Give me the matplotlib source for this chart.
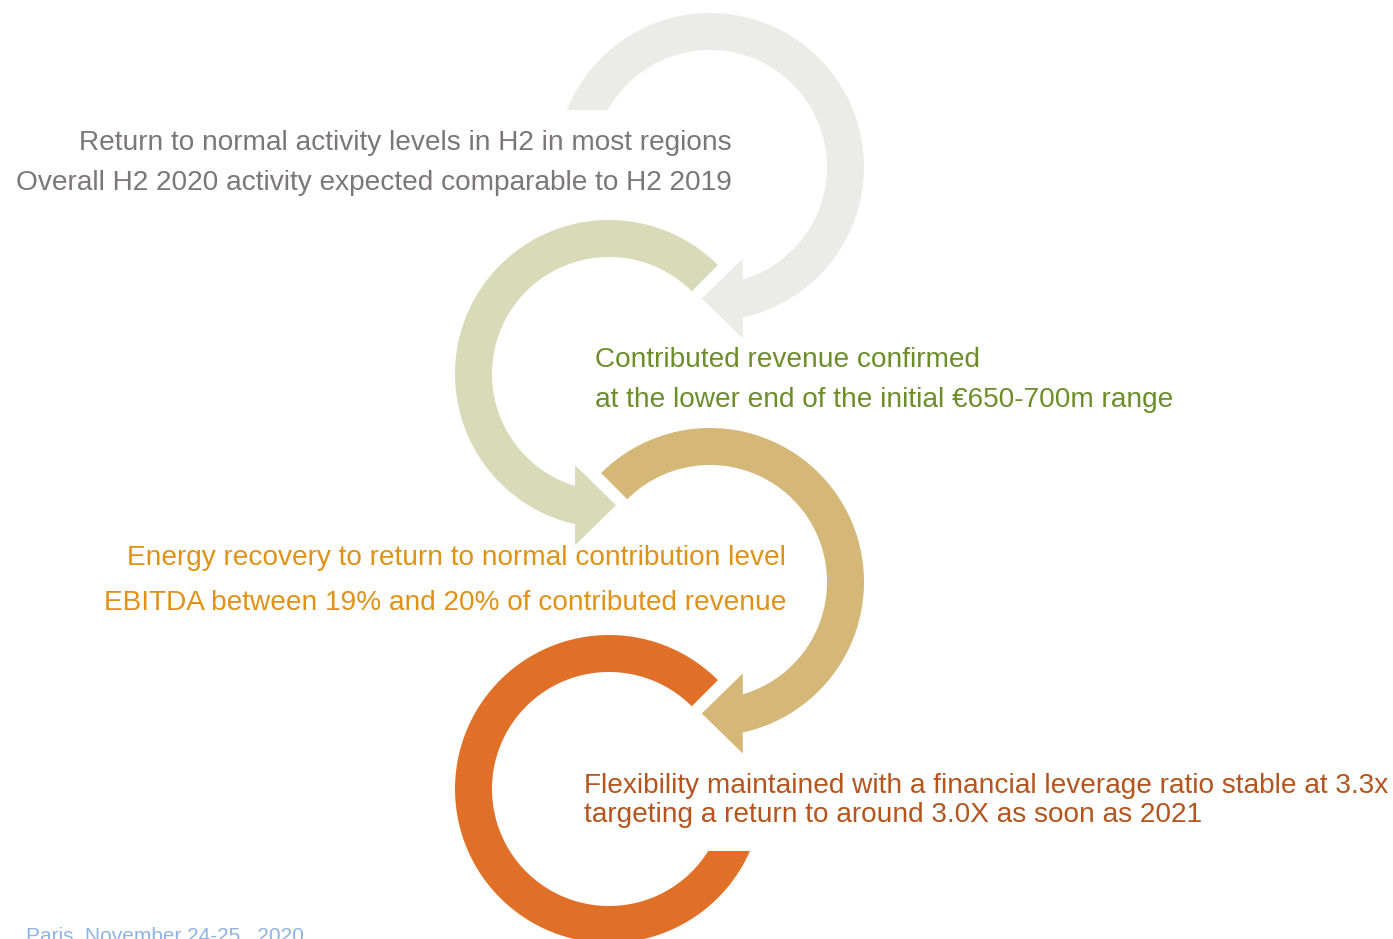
import matplotlib as mpl
import matplotlib.pyplot as plt
import numpy as np
from matplotlib.patches import Polygon, Rectangle
mpl.use('Agg')

# --- data -------------------------------------------------------------
gray_lines = ['Return to normal activity levels in H2 in most regions',
              'Overall H2 2020 activity expected comparable to H2 2019']
green_lines = ['Contributed revenue confirmed',
               'at the lower end of the initial \u20ac650-700m range']
gold_lines = ['Energy recovery to return to normal contribution level',
              'EBITDA between 19% and 20% of contributed revenue']
brown_lines = ['Flexibility maintained with a financial leverage ratio stable at 3.3x',
               'targeting a return to around 3.0X as soon as 2021']
footer = 'Paris, November 24-25 , 2020'

# ring centres (px), start angle, base angle of the head, head direction (+1 right, -1 left, 0 none)
centres = [(710, 167), (609, 374), (710, 582), (609, 789)]
start_deg = [175, 45, 135, 45]
base_deg = [-76, 255.5, -76, 345]
head_dir = [-1, 1, -1, 0]
ring_cols = ['#ebebea', '#d8dab8', '#d5b877', '#e07027']

R_OUT, R_IN, HALF_HEAD, HEAD_LEN = 154, 117, 40, 41
R_MID = (R_OUT + R_IN) / 2


def pt(c, r, t):
    t = np.radians(t)
    return np.array([c[0] + r * np.cos(t), c[1] - r * np.sin(t)])


def ang(c, p):
    return np.degrees(np.arctan2(-(p[1] - c[1]), p[0] - c[0]))


def circ_hit(c, r, b, n):
    # point on line b + s*n closest to b that lies on circle radius r
    d = b - np.array(c)
    bb = 2 * np.dot(d, n)
    cc = np.dot(d, d) - r * r
    disc = np.sqrt(bb * bb - 4 * cc)
    s = min([(-bb + disc) / 2, (-bb - disc) / 2], key=abs)
    return b + s * n


def ring_arrow(c, t0, tb, hd):
    if hd == 0:
        a_out = np.linspace(t0, tb, 200)
        pts = [pt(c, R_OUT, t) for t in a_out] + [pt(c, R_IN, t) for t in a_out[::-1]]
        return np.array(pts)
    B = pt(c, R_MID, tb)
    T = B + np.array([hd * HEAD_LEN, 0])
    n = np.array([0.0, 1.0])
    if np.linalg.norm(B + n - np.array(c)) < np.linalg.norm(B - np.array(c)):
        n = -n
    po = circ_hit(c, R_OUT, B, n)
    pi = circ_hit(c, R_IN, B, n)
    eo = tb + (ang(c, po) - tb + 180) % 360 - 180
    ei = tb + (ang(c, pi) - tb + 180) % 360 - 180
    pts = [pt(c, R_OUT, t) for t in np.linspace(t0, eo, 200)]
    pts += [B + HALF_HEAD * n, T, B - HALF_HEAD * n]
    pts += [pt(c, R_IN, t) for t in np.linspace(ei, t0, 200)]
    return np.array(pts)


fig = plt.figure(figsize=(13.93, 9.39), dpi=100)
ax = fig.add_axes([0, 0, 1, 1])
ax.set_xlim(0, 1393)
ax.set_ylim(939, 0)
ax.axis('off')

for i in range(4):
    poly = ring_arrow(centres[i], start_deg[i], base_deg[i], head_dir[i])
    ax.add_patch(Polygon(poly, closed=True, facecolor=ring_cols[i],
                         edgecolor='none', zorder=2 + i))

# white text boxes hiding ring ends
ax.add_patch(Rectangle((0, 110), 740, 100, facecolor='white', edgecolor='none', zorder=2.5))
ax.add_patch(Rectangle((640, 762), 753, 89, facecolor='white', edgecolor='none', zorder=6))

font = 'Liberation Sans'
fs = 20.2
ax.text(732, 150, gray_lines[0], ha='right', va='baseline', fontsize=fs, color='#7b7778', family=font, zorder=10)
ax.text(732, 190, gray_lines[1], ha='right', va='baseline', fontsize=fs, color='#7b7778', family=font, zorder=10)
ax.text(595, 367, green_lines[0], ha='left', va='baseline', fontsize=fs, color='#6b8e2a', family=font, zorder=10)
ax.text(595, 407, green_lines[1], ha='left', va='baseline', fontsize=fs, color='#6b8e2a', family=font, zorder=10)
ax.text(786, 565, gold_lines[0], ha='right', va='baseline', fontsize=fs, color='#e09216', family=font, zorder=10)
ax.text(786, 610, gold_lines[1], ha='right', va='baseline', fontsize=fs, color='#e09216', family=font, zorder=10)
ax.text(584, 793, brown_lines[0], ha='left', va='baseline', fontsize=fs, color='#b5541d', family=font, zorder=10)
ax.text(584, 822, brown_lines[1], ha='left', va='baseline', fontsize=fs, color='#b5541d', family=font, zorder=10)
ax.text(26, 927, footer, ha='left', va='top', fontsize=15, color='#8fb4e3', family=font, zorder=10)

plt.savefig('out.png', dpi=100)
